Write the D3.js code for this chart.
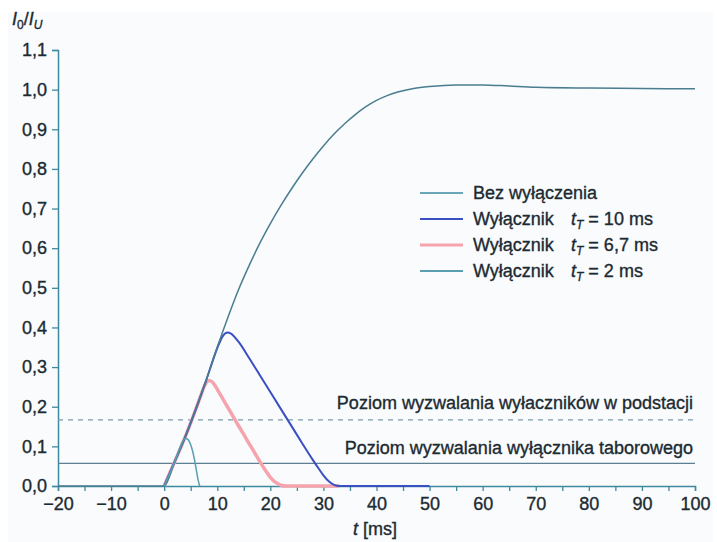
<!DOCTYPE html>
<html>
<head>
<meta charset="utf-8">
<script src="https://cdn.jsdelivr.net/npm/d3@7"></script>
<style>
	body { margin: 0; background: #ffffff; }
	text { font-family: 'Liberation Sans', Arial, sans-serif; fill: #1c2a32; stroke: #1c2a32; stroke-width: 0.35; }
</style>
</head>
<body>
<div id="viz"></div>
<script>
let WIDTH = 717
let HEIGHT = 542
let FONT_SIZE = '18px'

// Bez wyłączenia
const t_main = [-20, 0, 2, 4, 6, 8, 10, 12, 14, 16, 18, 20, 22, 24, 26, 28, 30, 32, 34, 36, 38, 40, 42, 44, 47, 50, 55, 60, 65, 70, 80, 90, 100]
const y_main = [0, 0, 0.062, 0.125, 0.195, 0.27, 0.35, 0.425, 0.495, 0.556, 0.612, 0.662, 0.708, 0.75, 0.789, 0.825, 0.858, 0.888, 0.914, 0.937, 0.957, 0.973, 0.985, 0.994, 1.003, 1.008, 1.012, 1.012, 1.009, 1.006, 1.004, 1.003, 1.002]

// Wyłącznik tT = 10 ms
const t_10 = [0, 2, 4, 6, 8, 9, 10, 10.5, 11, 11.5, 12, 12.5, 13, 14, 16, 18, 20, 22, 24, 26, 28, 29, 30, 31, 32, 33, 50]
const y_10 = [0, 0.062, 0.125, 0.195, 0.27, 0.31, 0.348, 0.364, 0.377, 0.385, 0.387, 0.385, 0.38, 0.364, 0.323, 0.28, 0.237, 0.194, 0.151, 0.108, 0.066, 0.046, 0.027, 0.012, 0.003, 0, 0]

// Wyłącznik tT = 6,7 ms
const t_67 = [0, 2, 4, 6, 7, 7.5, 8, 8.5, 9, 9.5, 10, 11, 12, 13, 14, 15, 16, 17, 18, 19, 20, 21, 22, 23, 33]
const y_67 = [0, 0.062, 0.125, 0.195, 0.232, 0.25, 0.262, 0.266, 0.263, 0.255, 0.244, 0.221, 0.198, 0.175, 0.152, 0.13, 0.107, 0.085, 0.062, 0.041, 0.022, 0.009, 0.002, 0, 0]

// Wyłącznik tT = 2 ms
const t_2 = [0, 1, 2, 3, 3.5, 4, 4.5, 5, 5.5, 6, 6.4, 6.7]
const y_2 = [0, 0.03, 0.062, 0.098, 0.113, 0.12, 0.117, 0.104, 0.08, 0.045, 0.015, 0]

// poziomy wyzwalania
const LEVEL_SUBSTATION = 0.167
const LEVEL_VEHICLE = 0.057

const x_ticks = [-20, -10, 0, 10, 20, 30, 40, 50, 60, 70, 80, 90, 100]
const x_minor = [-15, -5, 5, 15, 25, 35, 45, 55, 65, 75, 85, 95]
const y_ticks = [0, 0.1, 0.2, 0.3, 0.4, 0.5, 0.6, 0.7, 0.8, 0.9, 1.0, 1.1]

const legend_labels = ['Bez wyłączenia', 'Wyłącznik', 'Wyłącznik', 'Wyłącznik']
const legend_values = ['', ' = 10 ms', ' = 6,7 ms', ' = 2 ms']

const AXIS_COLOR = '#3f8aa0'
const colors = ['#4a7d8f', '#3a4fc2', '#f5a3ad', '#5a9fb0']
const widths = [1.5, 2, 3.5, 1.5]

const x = d3.scaleLinear().domain([-20, 100]).range([58, 695])
const y = d3.scaleLinear().domain([0, 1.1]).range([486, 50])

const fmt = (d) => d3.format('.1f')(d).replace('.', ',')

let svg = d3
	.select('#viz')
	.append('svg')
	.attr('width', WIDTH)
	.attr('height', HEIGHT)

svg.append('rect')
	.attr('x', 8)
	.attr('y', 12)
	.attr('width', 705)
	.attr('height', 530)
	.attr('fill', '#f9fbfd')

// axes
let x_axis = svg
	.append('g')
	.attr('transform', `translate(0, ${y(0)})`)
	.call(d3.axisBottom(x).tickValues(x_ticks).tickSize(5).tickPadding(6).tickFormat(d3.format('d')))
x_axis
	.append('g')
	.call(d3.axisBottom(x).tickValues(x_minor).tickSize(5).tickFormat(''))
	.select('.domain')
	.remove()

let y_axis = svg
	.append('g')
	.attr('transform', `translate(${x(-20)}, 0)`)
	.call(d3.axisLeft(y).tickValues(y_ticks).tickSize(6).tickPadding(5).tickFormat(fmt))

svg.selectAll('.domain').attr('stroke', AXIS_COLOR).attr('stroke-width', 1.5)
svg.selectAll('.tick line').attr('stroke', AXIS_COLOR).attr('stroke-width', 1.3)
svg.selectAll('.tick text')
	.style('font-family', "'Liberation Sans', Arial, sans-serif")
	.style('font-size', FONT_SIZE)
	.attr('fill', '#1c2a32')
	.attr('stroke', '#1c2a32')
	.attr('stroke-width', 0.4)

// trip levels
svg.append('line')
	.attr('x1', x(-20))
	.attr('x2', x(100))
	.attr('y1', y(LEVEL_SUBSTATION))
	.attr('y2', y(LEVEL_SUBSTATION))
	.attr('stroke', '#7d9aa8')
	.attr('stroke-width', 1.3)
	.attr('stroke-dasharray', '5,5')

svg.append('line')
	.attr('x1', x(-20))
	.attr('x2', x(100))
	.attr('y1', y(LEVEL_VEHICLE))
	.attr('y2', y(LEVEL_VEHICLE))
	.attr('stroke', '#5c7f92')
	.attr('stroke-width', 1.3)

svg.append('text')
	.attr('x', x(100) - 2)
	.attr('y', y(LEVEL_SUBSTATION) - 11)
	.attr('text-anchor', 'end')
	.style('font-size', FONT_SIZE)
	.text('Poziom wyzwalania wyłaczników w podstacji')

svg.append('text')
	.attr('x', x(100) - 2)
	.attr('y', y(LEVEL_VEHICLE) - 9)
	.attr('text-anchor', 'end')
	.style('font-size', FONT_SIZE)
	.text('Poziom wyzwalania wyłącznika taborowego')

// curves
const line = d3
	.line()
	.x((d) => x(d[0]))
	.y((d) => y(d[1]))
	.curve(d3.curveMonotoneX)

const series = [
	d3.zip(t_main, y_main),
	d3.zip(t_10, y_10),
	d3.zip(t_67, y_67),
	d3.zip(t_2, y_2),
]

// draw order: pink under, then blue, main, green
const order = [2, 1, 0, 3]
for (let i of order) {
	svg.append('path')
		.datum(series[i])
		.attr('d', line)
		.attr('fill', 'none')
		.attr('stroke', colors[i])
		.attr('stroke-width', widths[i])
		.attr('stroke-linejoin', 'round')
}

// legend
let legend = svg.append('g')
legend_labels.forEach((label, i) => {
	const ly = 193 + i * 26
	legend.append('line')
		.attr('x1', 420)
		.attr('x2', 463)
		.attr('y1', ly)
		.attr('y2', ly)
		.attr('stroke', i == 0 ? '#6aa6b8' : colors[i])
		.attr('stroke-width', i == 2 ? 3 : 2)

	let txt = legend.append('text')
		.attr('x', 473)
		.attr('y', ly + 6)
		.style('font-size', FONT_SIZE)
	txt.append('tspan').text(label)
	if (legend_values[i]) {
		txt.append('tspan').attr('x', 571).style('font-style', 'italic').text('t')
		txt.append('tspan').attr('dy', 4).style('font-size', '12px').style('font-style', 'italic').text('T')
		txt.append('tspan').attr('dy', -4).text(legend_values[i])
	}
})

// y label I0/IU
let ylab = svg.append('text').attr('x', 12).attr('y', 25).style('font-size', FONT_SIZE)
ylab.append('tspan').style('font-style', 'italic').text('I')
ylab.append('tspan').attr('dy', 4).style('font-size', '12px').text('0')
ylab.append('tspan').attr('dy', -4).text('/')
ylab.append('tspan').style('font-style', 'italic').text('I')
ylab.append('tspan').attr('dy', 4).style('font-size', '12px').style('font-style', 'italic').text('U')

// x label
let xlab = svg.append('text').attr('x', 353).attr('y', 535).style('font-size', FONT_SIZE)
xlab.append('tspan').style('font-style', 'italic').text('t')
xlab.append('tspan').text(' [ms]')
</script>
</body>
</html>
